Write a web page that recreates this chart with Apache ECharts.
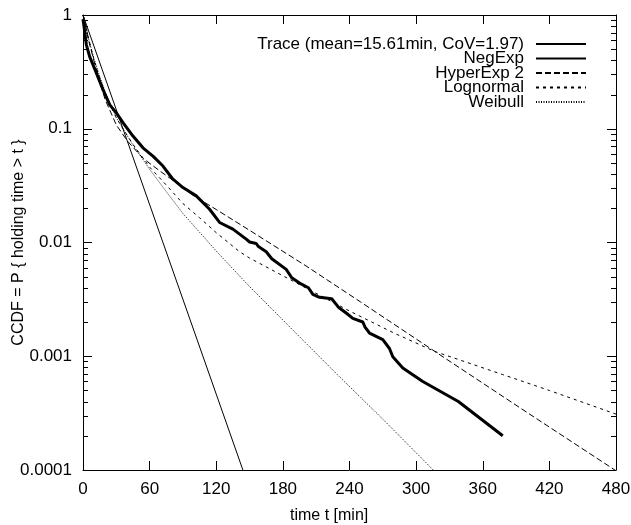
<!DOCTYPE html>
<html>
<head>
<meta charset="utf-8">
<script src="https://cdn.jsdelivr.net/npm/echarts@6/dist/echarts.min.js"></script>
<style>html,body{margin:0;padding:0;background:#fff}#c{width:631px;height:525px}</style>
</head>
<body>
<div id="c"></div>
<script>
// ---- data ----
const xMin = 0, xMax = 480, xInterval = 60;
const yMin = 0.0001, yMax = 1;
const yTickValues = [0.0001, 0.001, 0.01, 0.1, 1];
const yTickLabels = ['0.0001', '0.001', '0.01', '0.1', '1'];
const yMinorTicks = [
  0.0002,0.0003,0.0004,0.0005,0.0006,0.0007,0.0008,0.0009,
  0.002,0.003,0.004,0.005,0.006,0.007,0.008,0.009,
  0.02,0.03,0.04,0.05,0.06,0.07,0.08,0.09,
  0.2,0.3,0.4,0.5,0.6,0.7,0.8,0.9
];
const seriesNames = ['Trace (mean=15.61min, CoV=1.97)', 'NegExp', 'HyperExp 2', 'Lognormal', 'Weibull'];

const traceT = [0, 1, 3, 6, 12, 18, 24, 30, 36, 45, 54, 63, 72, 81, 90, 102, 114, 123, 135, 147, 150, 156, 158, 165, 170, 183, 188, 195, 203, 207, 213, 224, 230, 237, 243, 252, 254, 258, 270, 276, 279, 288, 306, 338, 378];
const traceP = [0.92, 0.78, 0.55, 0.43, 0.31, 0.221, 0.163, 0.138, 0.113, 0.0863, 0.068, 0.0575, 0.047, 0.036, 0.0304, 0.0257, 0.0196, 0.015, 0.0131, 0.0107, 0.0101, 0.0098, 0.0092, 0.0083, 0.0072, 0.0058, 0.0049, 0.0044, 0.0040, 0.0035, 0.0033, 0.0032, 0.0027, 0.0024, 0.00215, 0.0020, 0.0018, 0.0016, 0.0014, 0.00117, 0.00099, 0.00079, 0.0006, 0.0004, 0.0002];

const negExpT = [0, 144];
const negExpP = [1, 0.0001];

const hypT = [0, 2, 5, 10, 15, 20, 30, 40, 54, 70, 85, 99, 120, 150, 200, 250, 317, 400, 480];
const hypP = [1, 0.82, 0.6, 0.39, 0.26, 0.18, 0.108, 0.078, 0.055, 0.042, 0.033, 0.026, 0.0195, 0.0128, 0.0063, 0.003, 0.0011, 0.00032, 0.0000985];

const logT = [0, 2, 5, 10, 15, 20, 30, 36, 45, 60, 75, 90, 105, 120, 141, 150, 180, 207, 240, 280, 317, 378, 420, 480];
const logP = [1, 0.85, 0.62, 0.4, 0.28, 0.2, 0.125, 0.1, 0.073, 0.046, 0.032, 0.022, 0.0165, 0.0122, 0.0083, 0.0073, 0.0051, 0.0037, 0.0025, 0.0016, 0.0011, 0.00069, 0.0005, 0.00031];

const weiT = [0, 2, 5, 10, 15, 20, 30, 36, 45, 60, 75, 90, 105, 121, 150, 190, 231, 270, 312, 320];
const weiP = [1, 0.85, 0.62, 0.41, 0.29, 0.21, 0.125, 0.1, 0.072, 0.044, 0.028, 0.018, 0.0123, 0.0082, 0.0041, 0.00166, 0.00066, 0.00028, 0.000108, 0.00009];

// ---- chart ----
const FONT = "'Liberation Sans', Arial, Helvetica, sans-serif";
function pairs(t, p) { return t.map((v, i) => [v, p[i]]); }
function yLabel(v) {
  let best = 0, bd = Infinity;
  yTickValues.forEach((tv, i) => { const d = Math.abs(Math.log10(v) - Math.log10(tv)); if (d < bd) { bd = d; best = i; } });
  return yTickLabels[best];
}
function lineSeries(name, data, width, dash) {
  return {
    name, type: 'line', data, showSymbol: false, symbol: 'none',
    xAxisIndex: 0, yAxisIndex: 0, animation: false,
    lineStyle: { color: '#000', width, type: dash },
    itemStyle: { color: '#000' }
  };
}
const axisLine = { show: true, onZero: false, lineStyle: { color: '#000', width: 1 } };
const tick = { show: true, inside: true, length: 9, lineStyle: { color: '#000', width: 1 } };

const chart = echarts.init(document.getElementById('c'), null, { renderer: 'canvas' });
chart.setOption({
  animation: false,
  backgroundColor: '#fff',
  textStyle: { fontFamily: FONT, color: '#000' },
  title: {
    text: 'time t [min]', left: 285, top: 503,
    textStyle: { fontFamily: FONT, fontSize: 16, fontWeight: 'normal', color: '#000' }
  },
  grid: { left: 83, right: 15, top: 15, bottom: 55, containLabel: false, outerBoundsMode: 'none' },
  legend: {
    orient: 'vertical', align: 'right', right: 44, top: 35.5, padding: 0,
    itemWidth: 50, itemHeight: 14, itemGap: -2.5,
    data: seriesNames,
    itemStyle: { opacity: 0, color: 'rgba(0,0,0,0)', borderColor: 'rgba(0,0,0,0)', borderWidth: 0 },
    textStyle: { fontFamily: FONT, fontSize: 17, color: '#000', padding: [0, 7, 0, 0] },
    selectedMode: false
  },
  xAxis: [
    { type: 'value', min: xMin, max: xMax, interval: xInterval, position: 'bottom',
      axisLine, axisTick: tick, splitLine: { show: false },
      axisLabel: { color: '#000', fontFamily: FONT, fontSize: 17, margin: 11 } },
    { type: 'value', min: xMin, max: xMax, interval: xInterval, position: 'top',
      axisLine, axisTick: tick, splitLine: { show: false }, axisLabel: { show: false } }
  ],
  yAxis: [
    { type: 'log', logBase: 10, min: yMin, max: yMax, position: 'left',
      name: 'CCDF = P { holding time > t }', nameLocation: 'middle', nameGap: 56,
      nameMoveOverlap: false,
      nameTextStyle: { fontFamily: FONT, fontSize: 16, color: '#000' },
      axisLine, axisTick: tick, splitLine: { show: false }, minorTick: { show: false },
      axisLabel: { color: '#000', fontFamily: FONT, fontSize: 17, margin: 11, formatter: yLabel } },
    { type: 'log', logBase: 10, min: yMin, max: yMax, position: 'right',
      axisLine, axisTick: tick, splitLine: { show: false }, axisLabel: { show: false } }
  ],
  series: [
    lineSeries(seriesNames[0], pairs(traceT, traceP), 3, 'solid'),
    lineSeries(seriesNames[1], pairs(negExpT, negExpP), 1, 'solid'),
    lineSeries(seriesNames[2], pairs(hypT, hypP), 1, [6, 3]),
    lineSeries(seriesNames[3], pairs(logT, logP), 1, [3, 4]),
    lineSeries(seriesNames[4], pairs(weiT, weiP), 1, [1, 1.5]),
    {
      type: 'custom', name: 'minorTicks', silent: true, xAxisIndex: 0, yAxisIndex: 0,
      data: yMinorTicks.map(v => [xMin, v]),
      renderItem: function (params, api) {
        const v = api.value(1);
        const l = api.coord([xMin, v]);
        const r = api.coord([xMax, v]);
        const y = Math.round(l[1]) + 0.5;
        return {
          type: 'group', children: [
            { type: 'line', shape: { x1: l[0], y1: y, x2: l[0] + 5, y2: y }, style: { stroke: '#000', lineWidth: 1 } },
            { type: 'line', shape: { x1: r[0] - 5, y1: y, x2: r[0], y2: y }, style: { stroke: '#000', lineWidth: 1 } }
          ]
        };
      }
    }
  ]
});
</script>
</body>
</html>
